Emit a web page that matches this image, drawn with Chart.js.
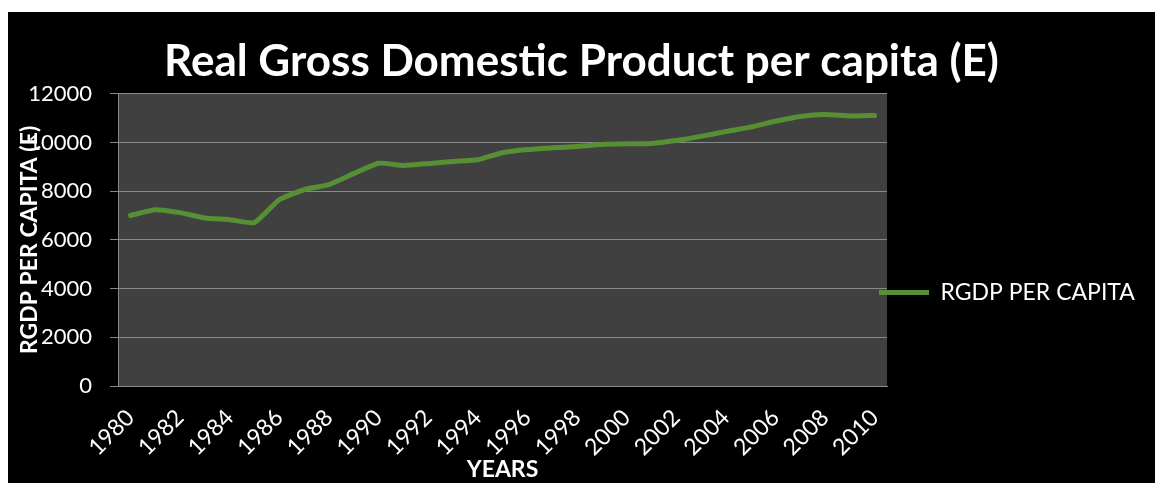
<!DOCTYPE html>
<html><head><meta charset="utf-8">
<script src="https://cdn.jsdelivr.net/npm/chart.js@4"></script>
<style>
html,body{margin:0;padding:0;background:#fff;}
#wrap{position:absolute;left:8px;top:12px;width:1147px;height:471px;background:#000;}
</style></head><body>
<div id="wrap"><canvas id="c"></canvas></div>
<script>
const years = ['1980','1981','1982','1983','1984','1985','1986','1987','1988','1989','1990','1991','1992','1993','1994','1995','1996','1997','1998','1999','2000','2001','2002','2003','2004','2005','2006','2007','2008','2009','2010'];
const rgdpPerCapita = [7000,7240,7120,6900,6830,6710,7650,8060,8270,8720,9150,9060,9130,9220,9290,9580,9710,9780,9840,9920,9950,9960,10080,10250,10450,10630,10870,11070,11150,11090,11110];
const seriesName = 'RGDP PER CAPITA';
const chartTitle = 'Real Gross Domestic Product per capita (E)';
const yAxisTitle = 'RGDP PER CAPITA (E)';
const xAxisTitle = 'YEARS';
const yMin = 0, yMax = 12000, yStep = 2000;

const FONT = 'Lato';
const plotBg = {
  id: 'plotBg',
  beforeDraw(chart) {
    const {ctx, chartArea: a} = chart;
    ctx.save();
    ctx.fillStyle = '#404040';
    ctx.fillRect(a.left, a.top, a.right - a.left, a.bottom - a.top);
    ctx.restore();
  }
};
const legendPlace = {
  id: 'legendPlace',
  afterLayout(chart) {
    const lg = chart.legend, a = chart.chartArea;
    const w = lg.right - lg.left;
    lg.left = a.right - 18; lg.right = lg.left + w;
    const cy = a.top + 0.68 * (a.bottom - a.top);
    const ih = 40;
    lg.top = cy - ih / 2; lg.bottom = cy + ih / 2;
  }
};

new Chart(document.getElementById('c'), {
  type: 'line',
  data: {
    labels: years,
    datasets: [{
      label: seriesName,
      data: rgdpPerCapita,
      borderColor: '#568f34',
      backgroundColor: '#568f34',
      borderWidth: 5,
      borderCapStyle: 'round',
      borderJoinStyle: 'round',
      pointRadius: 0,
      tension: 0.15,
      fill: false
    }]
  },
  options: {
    responsive: true,
    maintainAspectRatio: false,
    devicePixelRatio: 1,
    animation: false,
    layout: { padding: 0 },
    plugins: {
      title: {
        display: true, text: chartTitle, color: '#fff',
        font: { family: FONT, size: 44, weight: 'bold', lineHeight: 1.2 },
        padding: { top: 23, bottom: 6 }
      },
      legend: {
        position: 'right', maxWidth: 268,
        labels: {
          color: '#fff', font: { family: FONT, size: 23 },
          usePointStyle: true, pointStyle: 'line', pointStyleWidth: 50, padding: 10
        }
      },
      tooltip: { enabled: false }
    },
    scales: {
      x: {
        offset: true,
        grid: { display: false, drawTicks: false },
        border: { display: true, color: '#8a8a8a', width: 1 },
        ticks: {
          color: '#fff', font: { family: FONT, size: 23 },
          autoSkip: false, minRotation: 45, maxRotation: 45, padding: 18,
          callback: function (v, i) { return i % 2 === 0 ? this.getLabelForValue(v) : ''; }
        },
        title: {
          display: true, text: xAxisTitle, color: '#fff',
          font: { family: FONT, size: 23, weight: 'bold', lineHeight: 1.2 },
          padding: { top: 0, bottom: 0 }
        },
        afterFit(scale) { scale.height = 97; }
      },
      y: {
        min: yMin, max: yMax,
        grid: { color: '#8a8a8a', lineWidth: 1, tickLength: 8, drawTicks: true },
        border: { display: true, color: '#8a8a8a', width: 1 },
        ticks: {
          stepSize: yStep, color: '#fff', font: { family: FONT, size: 22 }, padding: 18,
          callback: (v) => String(v)
        },
        title: {
          display: true, text: yAxisTitle, color: '#fff',
          font: { family: FONT, size: 23, weight: 'bold', lineHeight: 1.2 },
          padding: { top: 8, bottom: 0 }
        },
        afterFit(scale) { scale.width = 110; }
      }
    }
  },
  plugins: [plotBg, legendPlace]
});
</script>
</body></html>
